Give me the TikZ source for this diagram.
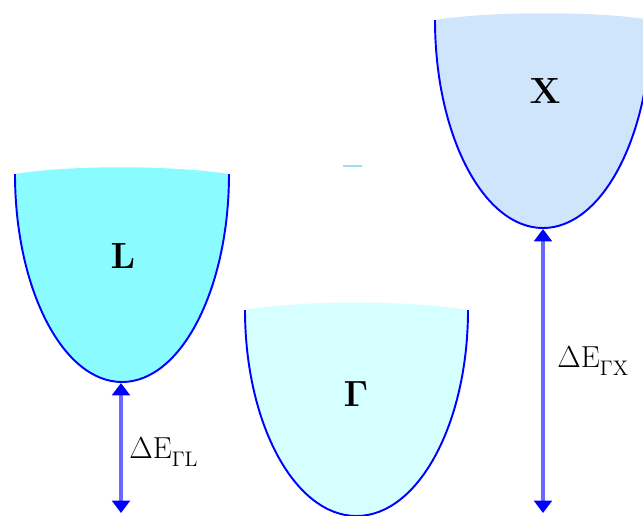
\documentclass[tikz,border=0pt]{standalone}
\usepackage{amsmath,amssymb,bm}
\usepackage{tikz}
\usetikzlibrary{arrows.meta}

\definecolor{valleyL}{RGB}{138,252,255}
\definecolor{valleyG}{RGB}{214,255,255}
\definecolor{valleyX}{RGB}{207,229,252}
\definecolor{shaft}{RGB}{105,105,255}

\tikzset{
  valley/.style={draw=blue,line width=1.1pt},
  gap/.style={draw=shaft,line width=2.2pt,
    {Triangle[color=blue,width=10pt,length=7pt]}-{Triangle[color=blue,width=10pt,length=7pt]}},
  label/.style={inner sep=0pt,font=\fontsize{22}{26}\selectfont},
  gaplabel/.style={inner sep=0pt,anchor=base west,font=\LARGE}
}
\newcommand{\gapsub}[1]{_{\lower2.5pt\hbox{$\scriptstyle#1$}}}

\begin{document}
\begin{tikzpicture}[x=0.02cm,y=-0.02cm]
  \clip (0,0) rectangle (643,515);

  \fill[valleyL] (15,174) arc[start angle=180,end angle=0,x radius=107,y radius=208]
    .. controls (170,165) and (70,165) .. cycle;
  \draw[valley] (15,174) arc[start angle=180,end angle=0,x radius=107,y radius=208];

  \fill[valleyG] (245,310) arc[start angle=180,end angle=0,x radius=111.5,y radius=206]
    .. controls (410,300) and (300,300) .. cycle;
  \draw[valley] (245,310) arc[start angle=180,end angle=0,x radius=111.5,y radius=206];

  \fill[valleyX] (435,20) arc[start angle=180,end angle=0,x radius=108,y radius=208]
    .. controls (600,11) and (490,11) .. cycle;
  \draw[valley] (435,20) arc[start angle=180,end angle=0,x radius=108,y radius=208];

  \draw[cyan!40,line width=0.8pt] (343,166) -- (362,166);

  \node[label] (L) at (123,256) {$\mathbf{L}$};
  \node[label] (G) at (356,394) {$\bm{\Gamma}$};
  \node[label] (X) at (545,91)  {$\mathbf{X}$};

  \coordinate (Lmin)  at (121,383);
  \coordinate (Lfoot) at (121,513);
  \coordinate (Xmin)  at (543,229);
  \coordinate (Xfoot) at (543,513);

  \draw[gap] (Lmin) -- (Lfoot);
  \draw[gap] (Xmin) -- (Xfoot);

  \node[gaplabel] (dL) at (129,458) {$\Delta\mathrm{E}\gapsub{\Gamma\mathrm{L}}$};
  \node[gaplabel] (dX) at (557,367) {$\Delta\mathrm{E}\gapsub{\Gamma\mathrm{X}}$};
\end{tikzpicture}
\end{document}
